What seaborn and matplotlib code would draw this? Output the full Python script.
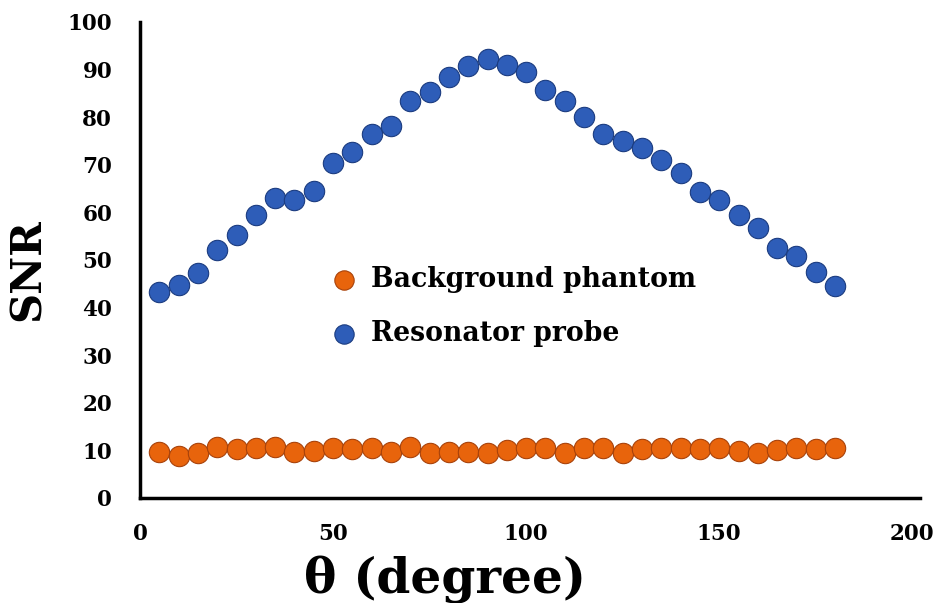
import matplotlib
matplotlib.use("Agg")
import matplotlib.pyplot as plt
import seaborn as sns
import numpy as np
import pandas as pd

# angle in degrees
theta = [5, 10, 15, 20, 25, 30, 35, 40, 45, 50, 55, 60, 65, 70, 75, 80, 85, 90,
         95, 100, 105, 110, 115, 120, 125, 130, 135, 140, 145, 150, 155, 160, 165, 170, 175, 180]

snr_resonator = [43.3, 44.7, 47.3, 52.1, 55.3, 59.5, 63.0, 62.6, 64.6, 70.4, 72.7, 76.4,
                 78.2, 83.4, 85.3, 88.4, 90.8, 92.2, 91.0, 89.5, 85.7, 83.4, 80.0, 76.5,
                 75.0, 73.5, 71.0, 68.3, 64.3, 62.6, 59.5, 56.7, 52.5, 50.8, 47.5, 44.5]

snr_background = [9.7, 8.9, 9.4, 10.8, 10.3, 10.6, 10.8, 9.7, 9.9, 10.4, 10.3, 10.6,
                  9.7, 10.8, 9.4, 9.7, 9.7, 9.4, 10.1, 10.4, 10.4, 9.4, 10.4, 10.6,
                  9.4, 10.3, 10.4, 10.6, 10.3, 10.6, 9.9, 9.4, 10.1, 10.4, 10.3, 10.4]

series_names = ["Background phantom", "Resonator probe"]
colors = {"Background phantom": "#E8640C", "Resonator probe": "#2E5DB8"}
edges = {"Background phantom": "#A8420A", "Resonator probe": "#1B3C80"}

df = pd.concat(
    [
        pd.DataFrame({"theta": theta, "SNR": snr_background, "series": series_names[0]}),
        pd.DataFrame({"theta": theta, "SNR": snr_resonator, "series": series_names[1]}),
    ],
    ignore_index=True,
)

sns.set_style("white")
plt.rcParams["font.family"] = ["DejaVu Serif"]
plt.rcParams["font.weight"] = "bold"
plt.rcParams["text.color"] = "black"
plt.rcParams["axes.labelcolor"] = "black"
plt.rcParams["xtick.color"] = "black"
plt.rcParams["ytick.color"] = "black"

fig = plt.figure(figsize=(9.49, 6.03), dpi=100)
ax = fig.add_axes([140 / 949, 105 / 603, 780 / 949, 476 / 603])

for name in series_names:
    sub = df[df["series"] == name]
    sns.scatterplot(
        data=sub, x="theta", y="SNR", ax=ax,
        color=colors[name], edgecolor=edges[name], linewidth=0.8,
        s=215, label=name, zorder=3,
    )

ax.set_xlim(0, 202)
ax.set_ylim(0, 100)
ax.set_xticks([0, 50, 100, 150, 200])
ax.set_yticks(range(0, 101, 10))
ax.tick_params(axis="both", length=0, labelsize=15.5, labelcolor="black")
ax.tick_params(axis="y", pad=20)
ax.tick_params(axis="x", pad=18)
for lab in ax.get_xticklabels() + ax.get_yticklabels():
    lab.set_fontweight("bold")

for side in ["top", "right"]:
    ax.spines[side].set_visible(False)
for side in ["left", "bottom"]:
    ax.spines[side].set_color("black")
    ax.spines[side].set_linewidth(2.5)

ax.set_xlabel("θ (degree)", fontsize=35, fontweight="bold", color="black")
ax.set_ylabel("SNR", fontsize=30, fontweight="bold", color="black")
ax.xaxis.set_label_coords(0.391, -0.172)
ax.yaxis.set_label_coords(-0.1436, 0.479)
ax.xaxis.label.set_va("center")
ax.yaxis.label.set_va("center")

leg = ax.legend(
    loc="upper left", bbox_to_anchor=(0.197, 0.537), frameon=False,
    handletextpad=0.0, labelspacing=1.0, markerscale=0.95,
    prop={"weight": "bold", "size": 19.2},
)
for t in leg.get_texts():
    t.set_color("black")

fig.savefig("out.png", dpi=100)
